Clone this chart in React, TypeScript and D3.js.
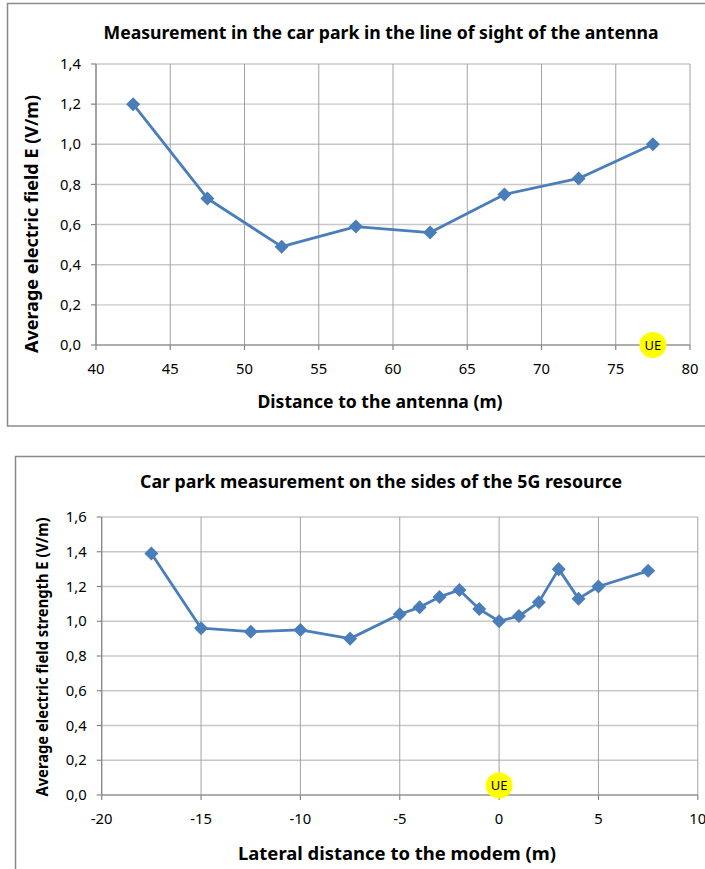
import React from "react";
import * as d3 from "d3";

// Line-of-sight measurement: distance to the antenna (m) vs average field (V/m)
const losDistance = [42.5, 47.5, 52.5, 57.5, 62.5, 67.5, 72.5, 77.5];
const losField = [1.2, 0.73, 0.49, 0.59, 0.56, 0.75, 0.83, 1.0];
const losXTicks = [40, 45, 50, 55, 60, 65, 70, 75, 80];
const losYTicks = [0, 0.2, 0.4, 0.6, 0.8, 1.0, 1.2, 1.4];

// Side measurement: lateral distance to the modem (m) vs average field strength (V/m)
const sideDistance = [-17.5, -15, -12.5, -10, -7.5, -5, -4, -3, -2, -1, 0, 1, 2, 3, 4, 5, 7.5];
const sideField = [1.39, 0.96, 0.94, 0.95, 0.9, 1.04, 1.08, 1.14, 1.18, 1.07, 1.0, 1.03, 1.11, 1.3, 1.13, 1.2, 1.29];
const sideXTicks = [-20, -15, -10, -5, 0, 5, 10];
const sideYTicks = [0, 0.2, 0.4, 0.6, 0.8, 1.0, 1.2, 1.4, 1.6];

const FONT = "'Noto Sans', 'Open Sans', sans-serif";
const LINE = "#4a7ebb";

const fmtY = (v: number) => d3.format(".1f")(v).replace(".", ",");

type Label = { text: string; x: number; y: number; size: number; width: number };

type ChartProps = {
  frame: { x: number; y: number; w: number; h: number };
  plot: { left: number; right: number; top: number; bottom: number };
  xDomain: [number, number];
  yDomain: [number, number];
  xTicks: number[];
  yTicks: number[];
  xs: number[];
  ys: number[];
  title: Label;
  xLabel: Label;
  yLabel: Label;
  ue: [number, number];
};

function Chart(p: ChartProps) {
  const x = d3.scaleLinear().domain(p.xDomain).range([p.plot.left, p.plot.right]);
  const y = d3.scaleLinear().domain(p.yDomain).range([p.plot.bottom, p.plot.top]);
  const pts = p.xs.map((v, i) => [x(v), y(p.ys[i])] as [number, number]);
  const line = d3.line()(pts) || "";
  const diamond = d3.symbol().type(d3.symbolDiamond2).size(125)() || "";
  return (
    <g>
      <rect x={p.frame.x} y={p.frame.y} width={p.frame.w} height={p.frame.h} fill="#fff" stroke="#8a8a8a" strokeWidth={1.5} />
      <text
        x={p.title.x}
        y={p.title.y}
        textAnchor="middle"
        fontFamily={FONT}
        fontWeight="bold"
        fontSize={p.title.size}
        textLength={p.title.width}
        lengthAdjust="spacingAndGlyphs"
        fill="#000"
      >
        {p.title.text}
      </text>
      {/* horizontal gridlines */}
      {p.yTicks.map((t) => (
        <line key={"h" + t} x1={p.plot.left} x2={p.plot.right} y1={y(t)} y2={y(t)} stroke="#c8c8c8" strokeWidth={1.4} />
      ))}
      {/* vertical gridlines */}
      {p.xTicks.map((t) => (
        <line key={"v" + t} x1={x(t)} x2={x(t)} y1={p.plot.top} y2={p.plot.bottom} stroke="#a3a3a3" strokeWidth={1} />
      ))}
      {/* axes */}
      <line x1={p.plot.left} x2={p.plot.left} y1={p.plot.top} y2={p.plot.bottom} stroke="#868686" strokeWidth={1.2} />
      <line x1={p.plot.left} x2={p.plot.right} y1={p.plot.bottom} y2={p.plot.bottom} stroke="#868686" strokeWidth={1.2} />
      {p.yTicks.map((t) => (
        <g key={"yt" + t}>
          <line x1={p.plot.left - 5} x2={p.plot.left} y1={y(t)} y2={y(t)} stroke="#868686" strokeWidth={1.2} />
          <text x={p.plot.left - 15} y={y(t)} dy="0.35em" textAnchor="end" fontFamily={FONT} fontSize={14.8} fill="#000">
            {fmtY(t)}
          </text>
        </g>
      ))}
      {p.xTicks.map((t) => (
        <g key={"xt" + t}>
          <line x1={x(t)} x2={x(t)} y1={p.plot.bottom} y2={p.plot.bottom + 5} stroke="#868686" strokeWidth={1.2} />
          <text x={x(t)} y={p.plot.bottom + 24} dy="0.35em" textAnchor="middle" fontFamily={FONT} fontSize={14.8} fill="#000">
            {t}
          </text>
        </g>
      ))}
      <text
        x={p.xLabel.x}
        y={p.xLabel.y}
        textAnchor="middle"
        fontFamily={FONT}
        fontWeight="bold"
        fontSize={p.xLabel.size}
        textLength={p.xLabel.width}
        lengthAdjust="spacingAndGlyphs"
        fill="#000"
      >
        {p.xLabel.text}
      </text>
      <text
        transform={`translate(${p.yLabel.x},${p.yLabel.y}) rotate(-90)`}
        textAnchor="middle"
        dy="0.35em"
        fontFamily={FONT}
        fontWeight="bold"
        fontSize={p.yLabel.size}
        textLength={p.yLabel.width}
        lengthAdjust="spacingAndGlyphs"
        fill="#000"
      >
        {p.yLabel.text}
      </text>
      {/* UE marker */}
      <ellipse cx={x(p.ue[0])} cy={y(p.ue[1])} rx={13.5} ry={13} fill="#ffff00" />
      <text x={x(p.ue[0])} y={y(p.ue[1])} dy="0.36em" textAnchor="middle" fontFamily={FONT} fontSize={13} fill="#000">
        UE
      </text>
      <path d={line} fill="none" stroke={LINE} strokeWidth={2.8} strokeLinejoin="round" />
      {pts.map((pt, i) => (
        <path key={"m" + i} d={diamond} transform={`translate(${pt[0]},${pt[1]})`} fill={LINE} />
      ))}
    </g>
  );
}

export default function App() {
  return (
    <svg width={705} height={869} style={{ position: "absolute", left: 0, top: 0, background: "#fff" }}>
      <rect x={0} y={0} width={705} height={869} fill="#fff" />
      <Chart
        frame={{ x: 7.5, y: 3.5, w: 720, h: 422.5 }}
        plot={{ left: 96, right: 690, top: 64, bottom: 345 }}
        xDomain={[40, 80]}
        yDomain={[0, 1.4]}
        xTicks={losXTicks}
        yTicks={losYTicks}
        xs={losDistance}
        ys={losField}
        title={{ text: "Measurement in the car park in the line of sight of the antenna", x: 381, y: 39, size: 17, width: 555 }}
        xLabel={{ text: "Distance to the antenna (m)", x: 380, y: 408, size: 17, width: 245 }}
        yLabel={{ text: "Average electric field E (V/m)", x: 32, y: 224, size: 17, width: 258 }}
        ue={[77.5, 0]}
      />
      <Chart
        frame={{ x: 15.5, y: 456.5, w: 720, h: 440 }}
        plot={{ left: 101.7, right: 697.8, top: 517, bottom: 795 }}
        xDomain={[-20, 10]}
        yDomain={[0, 1.6]}
        xTicks={sideXTicks}
        yTicks={sideYTicks}
        xs={sideDistance}
        ys={sideField}
        title={{ text: "Car park measurement on the sides of the 5G resource", x: 381, y: 488, size: 17, width: 482 }}
        xLabel={{ text: "Lateral distance to the modem (m)", x: 397, y: 860, size: 17, width: 318 }}
        yLabel={{ text: "Average electric field strength E (V/m)", x: 42, y: 657, size: 16, width: 279 }}
        ue={[0, 0.055]}
      />
    </svg>
  );
}
